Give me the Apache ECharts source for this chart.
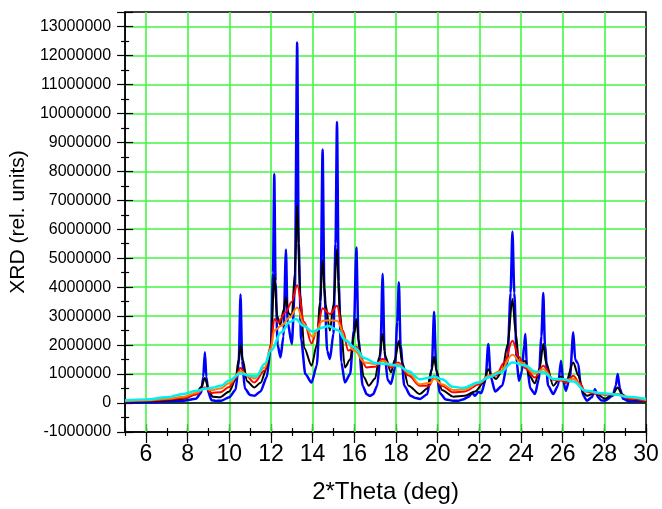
<!DOCTYPE html>
<html>
<head>
<meta charset="utf-8">
<script src="https://cdn.jsdelivr.net/npm/echarts@6/dist/echarts.min.js"></script>
<style>
  html, body { margin: 0; padding: 0; background: #fff; }
  #chart { width: 662px; height: 509px; }
</style>
</head>
<body>
<div id="chart"></div>
<script>
// 2-theta positions (deg) and intensities for each broadening level
const sharpTheta = [5.0,6.0,7.0,7.8,8.4,8.65,8.75,8.83,8.9,9.0,9.15,9.35,9.6,10.0,10.3,10.45,10.54,10.62,10.75,11.0,11.2,11.5,11.8,12.0,12.1,12.16,12.22,12.32,12.46,12.6,12.72,12.8,13.0,13.15,13.26,13.33,13.45,13.65,13.95,14.2,14.38,14.48,14.56,14.7,14.83,15.0,15.1,15.17,15.25,15.38,15.55,15.8,15.98,16.1,16.2,16.4,16.6,16.75,16.9,17.1,17.25,17.36,17.45,17.6,17.76,17.95,18.06,18.14,18.22,18.4,18.7,18.95,19.15,19.5,19.72,19.83,19.93,20.1,20.4,20.75,21.0,21.2,21.5,21.65,21.8,21.95,22.1,22.3,22.43,22.55,22.76,23.1,23.35,23.5,23.59,23.68,23.8,23.9,24.05,24.15,24.21,24.28,24.45,24.67,24.85,24.98,25.07,25.15,25.3,25.55,25.78,25.92,26.02,26.15,26.35,26.51,26.6,26.75,26.85,27.0,27.16,27.4,27.55,27.7,27.85,28.03,28.4,28.55,28.64,28.75,28.9,29.2,29.6,30.0];
const sharpXrd = [20000,30000,50000,80000,150000,350000,900000,1750000,900000,350000,100000,70000,80000,200000,450000,1300000,3750000,1450000,500000,280000,250000,400000,900000,2000000,4500000,7900000,4200000,2000000,1580000,2300000,5300000,2800000,2040000,4000000,12450000,5500000,2200000,1000000,710000,1300000,3500000,8750000,4000000,1800000,1520000,2400000,5500000,9700000,4200000,1400000,710000,1000000,2500000,5370000,2200000,600000,300000,250000,300000,600000,1600000,4460000,1800000,800000,660000,1200000,2800000,4170000,2000000,600000,250000,170000,140000,300000,1200000,3150000,1200000,350000,120000,80000,80000,120000,220000,350000,250000,380000,350000,800000,2040000,900000,400000,600000,1400000,3800000,5920000,3800000,1400000,770000,1100000,2000000,2380000,1300000,500000,310000,800000,2300000,3800000,2000000,600000,310000,600000,1460000,800000,420000,900000,2440000,1500000,1350000,700000,250000,80000,200000,480000,200000,90000,80000,250000,600000,1000000,500000,150000,50000,60000,80000];

const midTheta = [5.0,6.0,7.0,7.8,8.4,8.65,8.83,9.0,9.2,9.56,10.0,10.3,10.45,10.54,10.65,10.85,11.2,11.5,11.8,12.0,12.16,12.3,12.45,12.6,12.72,12.85,13.0,13.15,13.26,13.4,13.6,13.95,14.2,14.35,14.48,14.62,14.83,15.0,15.17,15.3,15.55,15.8,16.0,16.1,16.25,16.45,16.7,17.0,17.2,17.36,17.5,17.76,17.95,18.14,18.3,18.6,19.15,19.5,19.7,19.83,19.95,20.2,20.75,21.3,21.8,22.2,22.43,22.6,22.8,23.1,23.35,23.59,23.75,23.9,24.05,24.21,24.4,24.67,24.9,25.07,25.2,25.55,25.92,26.15,26.51,26.75,27.0,27.16,27.55,28.03,28.4,28.64,28.85,29.2,30.0];
const midXrd = [40000,60000,100000,150000,300000,550000,860000,500000,220000,200000,400000,800000,1500000,2000000,1500000,750000,540000,700000,1200000,2000000,4400000,3000000,2700000,3200000,3650000,3100000,3000000,4500000,6820000,3800000,1900000,1290000,2000000,3500000,4920000,3400000,2500000,3400000,5320000,3200000,1230000,1500000,2400000,2900000,1900000,900000,600000,850000,1600000,2380000,1600000,1060000,1500000,2150000,1400000,600000,310000,500000,1100000,1600000,1100000,450000,220000,250000,400000,700000,1170000,950000,830000,1100000,2000000,3590000,2400000,1450000,1400000,1450000,950000,680000,1200000,2050000,1400000,600000,920000,700000,1400000,950000,350000,250000,350000,150000,300000,540000,300000,120000,80000];

const broadTheta = [5.0,6.0,7.0,7.8,8.4,8.83,9.15,9.56,10.0,10.3,10.54,10.8,11.2,11.7,12.0,12.16,12.35,12.7,13.0,13.26,13.6,13.95,14.2,14.48,14.83,15.17,15.45,15.71,16.1,16.59,17.0,17.36,17.76,18.11,18.6,19.15,19.6,19.83,20.2,20.75,21.3,22.0,22.43,22.8,23.2,23.59,23.9,24.2,24.67,25.07,25.55,25.92,26.2,26.51,26.8,27.1,27.6,28.03,28.64,29.2,30.0];
const broadXrd = [50000,80000,120000,170000,300000,540000,350000,370000,550000,850000,1210000,950000,710000,1120000,2000000,2900000,2780000,3130000,3500000,4070000,2800000,2060000,2500000,3270000,3070000,3360000,2500000,1810000,1940000,1230000,1250000,1520000,1230000,1400000,950000,600000,600000,940000,600000,370000,400000,650000,910000,950000,1400000,2150000,1600000,1200000,880000,1290000,800000,780000,700000,940000,700000,400000,320000,290000,300000,150000,80000];

const wideTheta = [5.0,6.0,7.0,7.8,8.4,8.83,9.15,9.56,10.0,10.54,11.0,11.2,11.7,12.0,12.16,12.5,12.9,13.26,13.6,14.0,14.5,14.8,15.17,15.6,16.0,16.5,17.0,17.4,17.8,18.1,18.6,19.15,19.66,19.83,20.2,20.75,21.3,22.0,22.43,23.0,23.59,24.0,24.67,25.07,25.55,26.0,26.51,27.1,28.0,28.64,29.2,30.0];
const wideXrd = [70000,100000,150000,220000,350000,500000,440000,500000,680000,1100000,900000,850000,1230000,1900000,2500000,2670000,2950000,3300000,2700000,2290000,2840000,2860000,2840000,2180000,1810000,1400000,1350000,1450000,1300000,1350000,1050000,650000,700000,840000,650000,450000,470000,700000,930000,1100000,1670000,1400000,1020000,1170000,820000,800000,830000,420000,320000,300000,200000,100000];

const widestTheta = [5.0,6.0,7.0,7.8,8.4,8.83,9.2,9.6,10.0,10.54,11.0,11.3,11.7,12.0,12.5,12.9,13.2,13.55,14.0,14.5,14.75,15.2,15.6,16.0,16.5,17.0,17.5,18.1,18.6,19.15,19.66,19.83,20.2,20.75,21.2,22.0,22.43,23.0,23.59,24.2,24.67,25.07,25.55,25.92,26.51,27.1,28.0,28.64,29.0,30.0];
const widestXrd = [100000,120000,200000,310000,420000,490000,530000,600000,780000,1020000,940000,920000,1350000,1810000,2440000,2800000,2900000,2670000,2470000,2610000,2660000,2520000,2150000,1920000,1550000,1380000,1350000,1290000,1100000,820000,880000,920000,820000,560000,520000,720000,880000,1050000,1400000,1300000,1090000,1060000,830000,830000,740000,420000,330000,290000,220000,140000];

// labelled 2-theta ticks
const xTicks = [6, 8, 10, 12, 14, 16, 18, 20, 22, 24, 26, 28, 30];

function pairs(xs, ys) {
  return xs.map((x, i) => [x, ys[i]]);
}

const chart = echarts.init(document.getElementById('chart'), null, { renderer: 'canvas' });

const gridGreen = '#45f545';
const font = 'Liberation Sans';
const tickStyle = { color: '#000', width: 1.2 };

function lineSeries(name, xs, ys, color, width, smooth) {
  return {
    name: name,
    type: 'line',
    xAxisIndex: 0,
    yAxisIndex: 0,
    data: pairs(xs, ys),
    showSymbol: false,
    symbol: 'none',
    smooth: smooth,
    smoothMonotone: 'x',
    lineStyle: { color: color, width: width },
    z: 3
  };
}

// vertical green grid at the labelled ticks plus the black zero line
const guides = {
  name: 'guides',
  type: 'line',
  xAxisIndex: 0,
  yAxisIndex: 0,
  data: [],
  z: 1,
  markLine: {
    silent: true,
    symbol: 'none',
    animation: false,
    z: 1,
    label: { show: false },
    data: xTicks.filter(v => v < 30).map(v => ({
      xAxis: v,
      lineStyle: { color: gridGreen, width: 1.6, type: 'solid' }
    })).concat([{
      yAxis: 0,
      lineStyle: { color: '#000', width: 1.5, type: 'solid' }
    }])
  }
};

const series = [
  guides,
  lineSeries('sharp', sharpTheta, sharpXrd, '#0000ff', 2.5, 0.25),
  lineSeries('mid', midTheta, midXrd, '#000000', 2, 0.3),
  lineSeries('broad', broadTheta, broadXrd, '#ff0000', 2, 0.35),
  lineSeries('wide', wideTheta, wideXrd, '#ff8000', 2, 0.4),
  lineSeries('widest', widestTheta, widestXrd, '#00f0f0', 2.5, 0.4)
];

// extra tick-only axes so the ticks cross the axis lines
function xTickAxis(inside, length, values, interval) {
  const ax = {
    type: 'value', position: 'bottom', min: 5, max: 30,
    axisLine: { show: false, onZero: false },
    axisTick: { show: true, inside: inside, length: length, lineStyle: tickStyle },
    axisLabel: { show: false },
    splitLine: { show: false }
  };
  if (values) ax.axisTick.customValues = values;
  if (interval) ax.interval = interval;
  return ax;
}

chart.setOption({
  animation: false,
  backgroundColor: '#fff',
  grid: {
    left: 125, right: 16, top: 12, bottom: 77,
    show: true, borderColor: '#000', borderWidth: 1.5, backgroundColor: 'transparent'
  },
  xAxis: [
    {
      type: 'value',
      position: 'bottom',
      min: 5, max: 30,
      name: '2*Theta (deg)',
      nameLocation: 'middle',
      nameGap: 48,
      nameTextStyle: { fontFamily: font, fontSize: 24, color: '#000' },
      axisLine: { show: true, onZero: false, lineStyle: { color: '#000', width: 1.5 } },
      axisTick: { show: true, length: 11, customValues: xTicks, lineStyle: tickStyle },
      minorTick: { show: false },
      axisLabel: { fontFamily: font, fontSize: 23, color: '#000', margin: 11, customValues: xTicks },
      splitLine: { show: false }
    },
    xTickAxis(false, 4, null, 1),
    xTickAxis(true, 8, xTicks, null),
    xTickAxis(true, 4, null, 1)
  ],
  yAxis: [
    {
      type: 'value',
      position: 'left',
      min: -1000000, max: 13500000,
      interval: 1000000,
      name: 'XRD (rel. units)',
      nameLocation: 'middle',
      nameGap: 93,
      nameTextStyle: { fontFamily: font, fontSize: 21, color: '#000' },
      axisLine: { show: true, onZero: false, lineStyle: { color: '#000', width: 1.5 } },
      axisTick: { show: true, length: 8, lineStyle: tickStyle },
      minorTick: { show: true, splitNumber: 2, length: 4, lineStyle: tickStyle },
      axisLabel: {
        fontFamily: font, fontSize: 16, color: '#000', margin: 14,
        formatter: v => (v % 1000000 === 0 ? String(v) : '')
      },
      splitLine: { show: true, showMinLine: false, showMaxLine: false, lineStyle: { color: gridGreen, width: 1.6 } }
    },
    {
      type: 'value',
      position: 'left',
      min: -1000000, max: 13500000,
      interval: 1000000,
      axisLine: { show: false, onZero: false },
      axisTick: { show: true, inside: true, length: 8, lineStyle: tickStyle },
      minorTick: { show: true, splitNumber: 2, length: 4, lineStyle: tickStyle },
      axisLabel: { show: false },
      splitLine: { show: false }
    }
  ],
  series: series
});
</script>
</body>
</html>
